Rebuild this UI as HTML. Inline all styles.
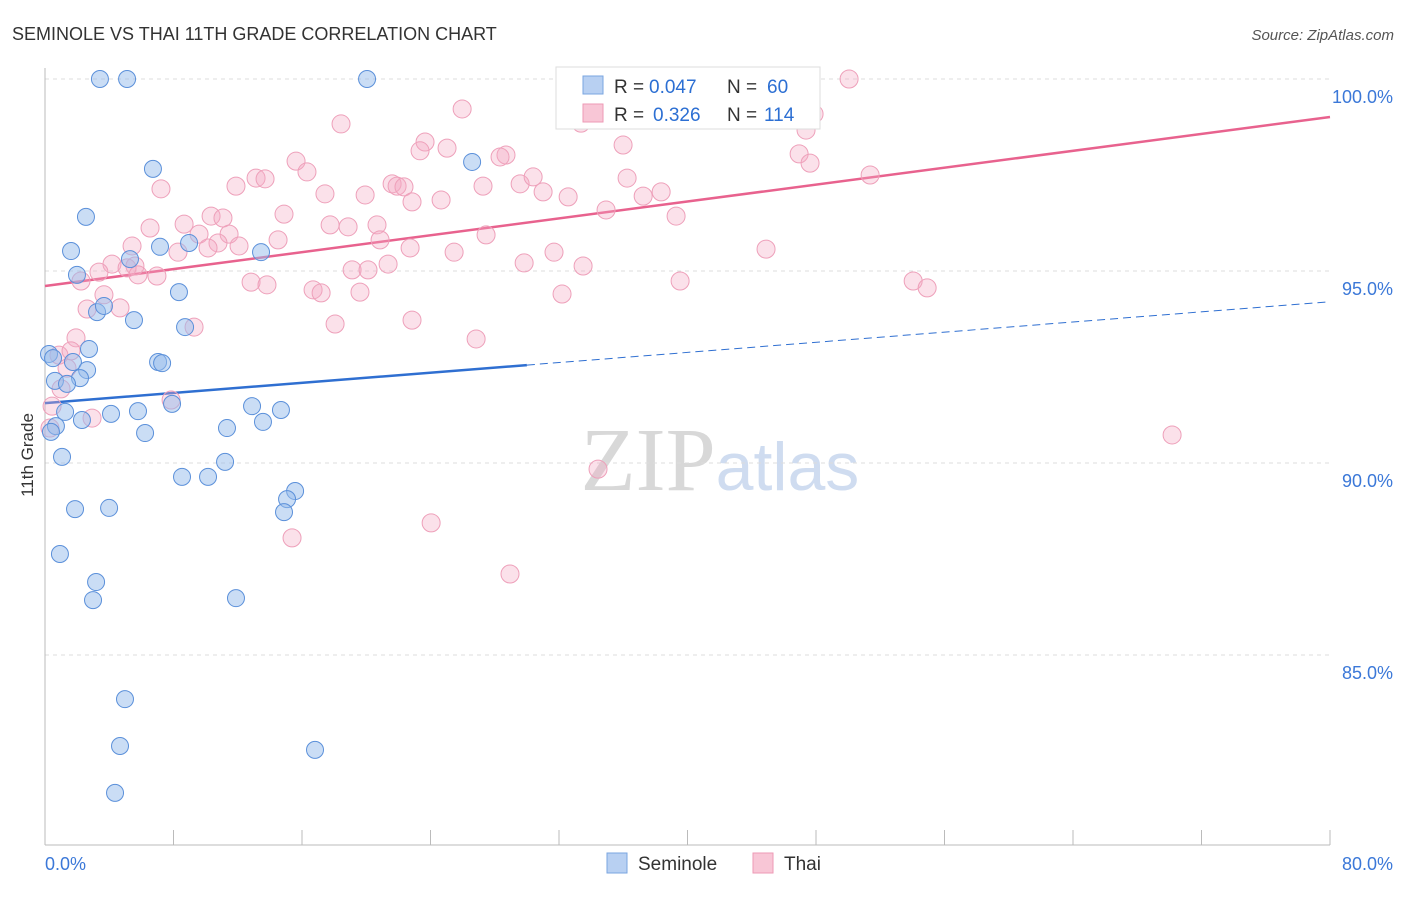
<!DOCTYPE html>
<html><head><meta charset="utf-8"><style>
body{margin:0;background:#fff;font-family:"Liberation Sans",sans-serif}
</style></head><body>
<svg id="chart" width="1406" height="892" xmlns="http://www.w3.org/2000/svg" style="font-family:'Liberation Sans',sans-serif">
<text x="12" y="40" font-size="18" fill="#333">SEMINOLE VS THAI 11TH GRADE CORRELATION CHART</text>
<text x="1394" y="40" font-size="15" fill="#555" text-anchor="end" font-style="italic">Source: ZipAtlas.com</text>
<text x="720" y="490" font-size="90" text-anchor="middle" font-family="Liberation Serif" fill="#ddd"><tspan fill="#d8d8d8">ZIP</tspan><tspan fill="#cfdcf0" font-family="Liberation Sans" font-size="68">atlas</tspan></text>
<text transform="translate(33,455) rotate(-90)" font-size="17" fill="#333" text-anchor="middle">11th Grade</text>
<g id="grid"></g><g id="axes"></g><g id="trend"></g><g id="pts"></g>
<g>
<rect x="556" y="67" width="264" height="62" fill="#fff" stroke="#ddd"/>
<rect x="583" y="76" width="20" height="18" fill="#b8d0f2" stroke="#7aa6e0"/>
<text x="614" y="93" font-size="19" fill="#333">R =</text>
<text x="649" y="93" font-size="19" fill="#2c6fd3">0.047</text>
<text x="727" y="93" font-size="19" fill="#333">N =</text>
<text x="767" y="93" font-size="19" fill="#2c6fd3">60</text>
<rect x="583" y="104" width="20" height="18" fill="#f8c6d6" stroke="#ee9ab5"/>
<text x="614" y="121" font-size="19" fill="#333">R =</text>
<text x="653" y="121" font-size="19" fill="#2c6fd3">0.326</text>
<text x="727" y="121" font-size="19" fill="#333">N =</text>
<text x="764" y="121" font-size="19" fill="#2c6fd3">114</text>
</g>
<g>
<rect x="607" y="853" width="20" height="20" fill="#b8d0f2" stroke="#7aa6e0"/>
<text x="638" y="870" font-size="19" fill="#333">Seminole</text>
<rect x="753" y="853" width="20" height="20" fill="#f8c6d6" stroke="#ee9ab5"/>
<text x="784" y="870" font-size="19" fill="#333">Thai</text>
</g>
</svg>
<script>
const seminoleX=[3.42,5.11,20.05,6.72,26.59,2.55,1.62,7.16,8.97,13.45,5.29,1.99,8.34,3.24,3.67,5.54,8.72,0.25,2.74,0.50,7.04,7.29,1.74,2.62,2.18,0.62,1.37,7.91,12.89,14.69,1.25,4.11,5.79,2.30,13.57,0.68,0.37,6.23,11.33,1.06,8.53,10.15,11.21,15.57,15.07,1.87,3.99,14.88,0.93,3.18,2.99,11.89,4.98,4.67,16.81,4.36];
const seminoleY=[100,100,100,97.66,97.84,96.41,95.52,95.63,95.73,95.49,95.31,94.90,94.45,93.93,94.09,93.72,93.54,92.84,92.97,92.73,92.63,92.60,92.63,92.42,92.21,92.14,92.06,91.54,91.48,91.38,91.33,91.28,91.35,91.12,91.07,90.96,90.81,90.78,90.91,90.16,89.64,89.64,90.03,89.27,89.06,88.80,88.83,88.72,87.63,86.90,86.43,86.48,83.85,82.63,82.53,81.41];
const thaiX=[32.88,38.73,41.72,50.06,25.97,18.43,47.88,33.37,47.38,23.66,25.03,23.35,35.99,28.70,28.33,46.95,47.63,15.63,16.31,13.14,13.70,11.89,7.22,17.43,19.93,21.61,21.92,22.35,27.27,29.58,31.01,30.39,36.24,38.36,37.24,32.57,24.66,22.85,51.37,34.93,39.29,10.34,11.08,14.88,8.66,6.54,9.59,11.46,17.75,18.87,20.67,20.86,14.51,12.08,10.77,10.15,5.42,22.73,25.47,8.28,5.60,4.17,5.11,3.36,5.79,6.97,29.83,31.69,33.50,19.12,20.11,21.36,2.24,12.83,13.82,16.69,17.19,19.61,32.19,39.54,54.05,54.92,44.89,3.67,4.67,2.62,18.06,22.85,9.28,1.93,26.84,0.87,1.62,1.37,1.00,0.44,7.85,2.93,0.31,70.17,34.43,24.04,15.38,28.95,27.46,40.78];
const thaiY=[100,100,100,100,99.22,98.83,99.09,98.85,98.67,98.36,98.20,98.13,98.28,98.02,97.97,98.05,97.81,97.86,97.58,97.42,97.40,97.21,97.14,97.01,96.98,97.27,97.21,97.19,97.21,97.27,97.06,97.45,97.42,97.06,96.95,96.93,96.85,96.80,97.50,96.59,96.43,96.43,96.38,96.48,96.22,96.12,95.96,95.96,96.20,96.15,96.20,95.81,95.81,95.65,95.73,95.60,95.65,95.60,95.49,95.49,95.13,95.18,95.08,94.97,94.90,94.87,95.21,95.49,95.13,95.03,95.03,95.18,94.74,94.71,94.64,94.51,94.43,94.45,94.40,94.74,94.74,94.56,95.57,94.38,94.04,94.01,93.62,93.72,93.54,93.26,93.23,92.81,92.92,92.47,91.93,91.48,91.64,91.17,90.91,90.73,89.84,88.44,88.05,87.11,95.94,99.84];
const yTicks=[100,95,90,85];
const yTickLabels=["100.0%","95.0%","90.0%","85.0%"];
const xTickVals=[0,8,16,24,32,40,48,56,64,72,80];
const seminoleTrend=[91.56,94.2];
const thaiTrend=[94.61,99.01];
const seminoleSolidEnd=30;

const NS="http://www.w3.org/2000/svg";
const X=v=>45+v*(1330-45)/80;
const Y=v=>79+(100-v)*38.4;
function mk(tag,attrs,parent){const e=document.createElementNS(NS,tag);for(const k in attrs)e.setAttribute(k,attrs[k]);document.getElementById(parent).appendChild(e);return e;}

yTicks.forEach((t,i)=>{
  const l=mk('line',{x1:45,x2:1330,y1:Y(t),y2:Y(t),stroke:'#ddd','stroke-dasharray':'4,4'},'grid');
  
  
  const tx=mk('text',{x:1393,y:Y(t)+24,'font-size':18,fill:'#3b78d8','text-anchor':'end'},'grid');
  tx.textContent=yTickLabels[i];
  
  
});
const ax=mk('line',{x1:45,x2:1330,y1:845,y2:845,stroke:'#bbb'},'axes');


const ay=mk('line',{x1:45,x2:45,y1:68,y2:845,stroke:'#bbb'},'axes');


xTickVals.forEach(v=>{
  const t=mk('line',{x1:X(v),x2:X(v),y1:830,y2:845,stroke:'#bbb'},'axes');
  
  
});
const xl0=mk('text',{x:45,y:870,'font-size':18,fill:'#3b78d8'},'axes');xl0.textContent='0.0%';


const xl1=mk('text',{x:1393,y:870,'font-size':18,fill:'#3b78d8','text-anchor':'end'},'axes');xl1.textContent='80.0%';



const sAt=x=>seminoleTrend[0]+(seminoleTrend[1]-seminoleTrend[0])*x/80;
const t1=mk('line',{x1:X(0),y1:Y(sAt(0)),x2:X(seminoleSolidEnd),y2:Y(sAt(seminoleSolidEnd)),stroke:'#2f6fd1','stroke-width':2.5},'trend');


const t2=mk('line',{x1:X(seminoleSolidEnd),y1:Y(sAt(seminoleSolidEnd)),x2:X(80),y2:Y(sAt(80)),stroke:'#2f6fd1','stroke-width':1,'stroke-dasharray':'8,5'},'trend');


const t3=mk('line',{x1:X(0),y1:Y(thaiTrend[0]),x2:X(80),y2:Y(thaiTrend[1]),stroke:'#e8628e','stroke-width':2.5},'trend');



thaiX.forEach((x,i)=>{
  const c=mk('circle',{cx:X(x),cy:Y(thaiY[i]),r:9,fill:'rgba(244,170,196,0.35)',stroke:'#eea0ba','stroke-width':1},'pts');
  
  
});
seminoleX.forEach((x,i)=>{
  const c=mk('circle',{cx:X(x),cy:Y(seminoleY[i]),r:8.5,fill:'rgba(150,188,236,0.5)',stroke:'#5b90da','stroke-width':1},'pts');
  
  
});
</script>
</body></html>
